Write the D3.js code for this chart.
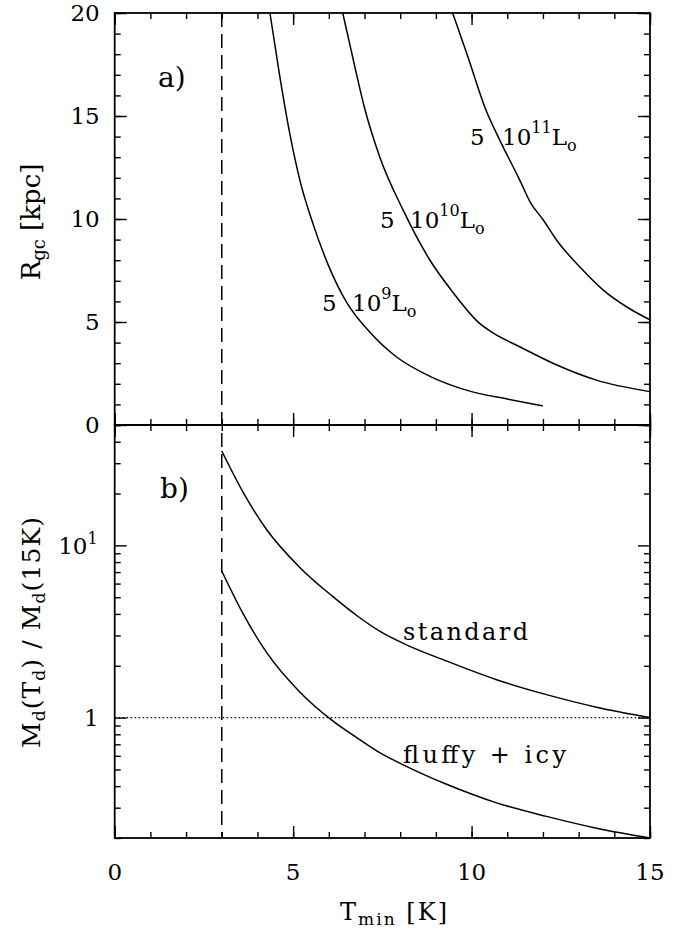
<!DOCTYPE html>
<html><head><meta charset="utf-8">
<script src="https://cdn.jsdelivr.net/npm/d3@7"></script>
<style>
html,body{margin:0;padding:0;background:#fff;}
svg text{font-family:"DejaVu Serif",serif;fill:#000;}
</style></head>
<body>
<svg id="c" width="689" height="933"></svg>
<script>
// ---------- data ----------
// panel a): R_gc [kpc] vs T_min [K] for three luminosities
const lum9_T  = [4.35, 4.6, 4.9, 5.2, 5.55, 6.0, 6.5, 7.15, 7.9, 8.85, 10.0, 11.0, 12.0];
const lum9_R  = [20, 17.2, 14.2, 11.8, 9.8, 7.7, 5.95, 4.5, 3.3, 2.35, 1.62, 1.26, 0.93];
const lum10_T = [6.39, 6.76, 7.0, 7.43, 8.08, 8.83, 9.45, 10.2, 10.6, 11.35, 12.28, 13.5, 15.0];
const lum10_R = [20, 17.15, 15.4, 13.0, 10.44, 8.01, 6.5, 4.97, 4.47, 3.8, 3.0, 2.18, 1.62];
const lum11_T = [9.47, 9.88, 10.4, 10.79, 11.35, 11.65, 12.01, 12.38, 13.03, 13.69, 14.34, 15.0];
const lum11_R = [20, 17.96, 15.3, 13.83, 11.89, 10.8, 9.95, 8.98, 7.68, 6.55, 5.74, 5.1];
// panel b): M_d(T_d)/M_d(15K) vs T_min
const massT        = [3, 3.6, 4.25, 5.2, 6.1, 6.8, 7.4, 8.1, 9.3, 10.7, 12.1, 13.5, 15];
const standardVals = [35.3, 20.3, 12.4, 7.4, 5.07, 3.89, 3.2, 2.69, 2.13, 1.66, 1.36, 1.15, 1.0];
const fluffyVals   = [7.1, 4.0, 2.4, 1.4, 0.96, 0.76, 0.63, 0.53, 0.41, 0.32, 0.267, 0.228, 0.2];
// axes
const xTicksMajor = [0, 5, 10, 15];
const xTicksMinor = d3.range(0, 16, 1);
const yaTicksMajor = [0, 5, 10, 15, 20];
const yaTicksMinor = d3.range(0, 21, 1);
const ybTicksMajor = [1, 10];
const ybTicksMinor = [0.2,0.3,0.4,0.5,0.6,0.7,0.8,0.9,2,3,4,5,6,7,8,9,20,30,40,50];
const dashedT = 3;
const refLevel = 1;

// ---------- layout ----------
const X0 = 114.7, X1 = 650, YT = 13, YM = 425, YB = 838;
const FS = 23;
const svg = d3.select("#c");
const x = d3.scaleLinear().domain([0, 15]).range([X0, X1]);
const ya = d3.scaleLinear().domain([0, 20]).range([YM, YT]);
const yb = d3.scaleLog().domain([0.2, 50]).range([YB, YM]);

function ticks(gen, vals, size, tx, ty) {
  svg.append("g").attr("transform", `translate(${tx},${ty})`)
    .call(gen.tickValues(vals).tickSize(size).tickSizeOuter(0).tickFormat(""))
    .call(g => { g.select(".domain").remove(); g.selectAll("line").attr("stroke", "#000").attr("stroke-width", 1.4); });
}
// panel a ticks
ticks(d3.axisBottom(x), xTicksMinor, -6, 0, YM);
ticks(d3.axisBottom(x), xTicksMajor, -12, 0, YM);
ticks(d3.axisTop(x), xTicksMinor, -6, 0, YT);
ticks(d3.axisTop(x), xTicksMajor, -12, 0, YT);
ticks(d3.axisLeft(ya), yaTicksMinor, -6, X0, 0);
ticks(d3.axisLeft(ya), yaTicksMajor, -12, X0, 0);
ticks(d3.axisRight(ya), yaTicksMinor, -6, X1, 0);
ticks(d3.axisRight(ya), yaTicksMajor, -12, X1, 0);
// panel b ticks
ticks(d3.axisBottom(x), xTicksMinor, -6, 0, YB);
ticks(d3.axisBottom(x), xTicksMajor, -12, 0, YB);
ticks(d3.axisTop(x), xTicksMinor, -6, 0, YM);
ticks(d3.axisTop(x), xTicksMajor, -12, 0, YM);
ticks(d3.axisLeft(yb), ybTicksMinor, -6, X0, 0);
ticks(d3.axisLeft(yb), ybTicksMajor, -12, X0, 0);
ticks(d3.axisRight(yb), ybTicksMinor, -6, X1, 0);
ticks(d3.axisRight(yb), ybTicksMajor, -12, X1, 0);

// frames
svg.append("rect").attr("x", X0).attr("y", YT).attr("width", X1 - X0).attr("height", YM - YT)
  .attr("fill", "none").attr("stroke", "#000").attr("stroke-width", 1.8);
svg.append("rect").attr("x", X0).attr("y", YM).attr("width", X1 - X0).attr("height", YB - YM)
  .attr("fill", "none").attr("stroke", "#000").attr("stroke-width", 1.8);

// tick labels
const lab = svg.append("g").attr("font-size", FS);
yaTicksMajor.forEach(v => lab.append("text").attr("x", X0 - 15).attr("y", ya(v)).attr("dy", "0.36em")
  .attr("text-anchor", "end").text(v));
xTicksMajor.forEach(v => lab.append("text").attr("x", x(v)).attr("y", 880)
  .attr("text-anchor", "middle").text(v));
lab.append("text").attr("x", X0 - 16).attr("y", yb(1)).attr("dy", "0.36em").attr("text-anchor", "end").text("1");
{
  const t = lab.append("text").attr("x", X0 - 17).attr("y", yb(10)).attr("dy", "0.36em").attr("text-anchor", "end");
  t.append("tspan").text("10");
  t.append("tspan").attr("font-size", 16).attr("dy", -10).text("1");
}

// axis titles
{
  const t = svg.append("text").attr("font-size", 24)
    .attr("x", 340).attr("y", 920).attr("textLength", 107).attr("lengthAdjust", "spacing");
  t.append("tspan").text("T");
  t.append("tspan").attr("font-size", 17).attr("dy", 5).text("min");
  t.append("tspan").attr("dy", -5).text("  [K]");
}
{
  const t = svg.append("text").attr("font-size", 26).attr("text-anchor", "middle")
    .attr("transform", "translate(40,222) rotate(-90)");
  t.append("tspan").text("R");
  t.append("tspan").attr("font-size", 18).attr("dy", 5).text("gc");
  t.append("tspan").attr("dy", -5).text("  [kpc]");
}
{
  const t = svg.append("text").attr("font-size", 25)
    .attr("transform", "translate(40,748) rotate(-90)").attr("textLength", 231).attr("lengthAdjust", "spacing");
  t.append("tspan").text("M");
  t.append("tspan").attr("font-size", 17).attr("dy", 5).text("d");
  t.append("tspan").attr("dy", -5).text("(T");
  t.append("tspan").attr("font-size", 17).attr("dy", 5).text("d");
  t.append("tspan").attr("dy", -5).text(")  /  M");
  t.append("tspan").attr("font-size", 17).attr("dy", 5).text("d");
  t.append("tspan").attr("dy", -5).text("(15K)");
}

// panel letters
svg.append("text").attr("font-size", 28).attr("x", 158).attr("y", 87).text("a)");
svg.append("text").attr("font-size", 28).attr("x", 160).attr("y", 498).text("b)");

// curves
const lineA = d3.line().x(d => x(d[0])).y(d => ya(d[1])).curve(d3.curveMonotoneX);
const lineB = d3.line().x(d => x(d[0])).y(d => yb(d[1])).curve(d3.curveMonotoneX);
[[lum9_T, lum9_R], [lum10_T, lum10_R], [lum11_T, lum11_R]].forEach(([T, R]) => {
  svg.append("path").datum(d3.zip(T, R)).attr("d", lineA)
    .attr("fill", "none").attr("stroke", "#000").attr("stroke-width", 1.5);
});
[standardVals, fluffyVals].forEach(V => {
  svg.append("path").datum(d3.zip(massT, V)).attr("d", lineB)
    .attr("fill", "none").attr("stroke", "#000").attr("stroke-width", 1.5);
});

// reference lines
svg.append("line").attr("x1", x(dashedT)).attr("x2", x(dashedT)).attr("y1", YT).attr("y2", YB)
  .attr("stroke", "#000").attr("stroke-width", 1.5).attr("stroke-dasharray", "14,7");
svg.append("line").attr("x1", X0).attr("x2", X1).attr("y1", yb(refLevel)).attr("y2", yb(refLevel))
  .attr("stroke", "#000").attr("stroke-width", 1.2).attr("stroke-dasharray", "1.5,2.5");

// curve labels
function lumLabel(x5, x10, yb_, exp) {
  svg.append("text").attr("font-size", FS).attr("x", x5).attr("y", yb_).text("5");
  const t = svg.append("text").attr("font-size", FS).attr("x", x10).attr("y", yb_);
  t.append("tspan").text("10");
  t.append("tspan").attr("font-size", 16).attr("dy", -12).text(exp);
  t.append("tspan").attr("dy", 12).text("L");
  t.append("tspan").attr("font-size", 16).attr("dy", 6).text("o");
}
lumLabel(470, 502, 145, "11");
lumLabel(380, 410, 228, "10");
lumLabel(322, 352, 311, "9");
svg.append("text").attr("font-size", 24).attr("x", 403).attr("y", 640)
  .attr("textLength", 125).attr("lengthAdjust", "spacing").text("standard");
svg.append("text").attr("font-size", 24).attr("x", 403).attr("y", 763)
  .attr("textLength", 163).attr("lengthAdjust", "spacing").text("fluffy + icy");
</script>
</body></html>
